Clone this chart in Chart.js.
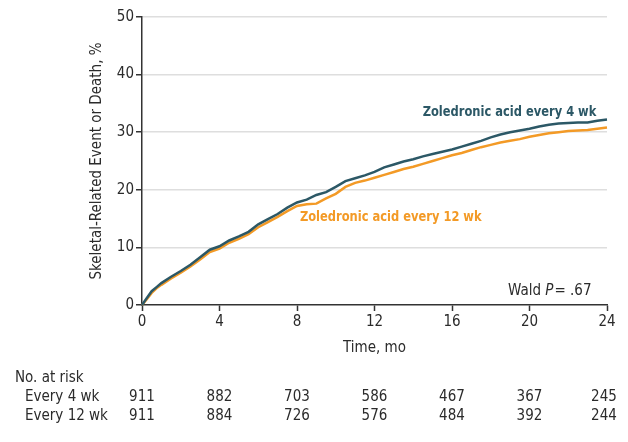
<!DOCTYPE html>
<html>
<head>
<meta charset="utf-8">
<script src="https://cdn.jsdelivr.net/npm/chart.js@4.4.1/dist/chart.umd.min.js"></script>
<style>
  html, body { margin: 0; padding: 0; background: #fff; }
  #wrap { width: 628px; height: 442px; }
</style>
</head>
<body>
<div id="wrap"><canvas id="kmChart"></canvas></div>
<script>
// datos
const months = [0, 0.25, 0.5, 0.75, 1, 1.5, 2, 2.5, 3, 3.5, 4, 4.5, 5, 5.5, 6, 6.5, 7, 7.5, 8, 8.5, 9, 9.5, 10, 10.5, 11, 11.5, 12, 12.5, 13, 13.5, 14, 14.5, 15, 15.5, 16, 16.5, 17, 17.5, 18, 18.5, 19, 19.5, 20, 20.5, 21, 21.5, 22, 22.5, 23, 23.5, 24, 24.2];
const every4wk = [0, 1.2, 2.4, 3.1, 3.8, 4.9, 5.9, 7.0, 8.3, 9.6, 10.2, 11.2, 11.9, 12.7, 14.0, 14.9, 15.8, 16.9, 17.8, 18.3, 19.1, 19.6, 20.5, 21.5, 22.0, 22.5, 23.1, 23.9, 24.4, 24.9, 25.3, 25.8, 26.2, 26.6, 27.0, 27.5, 28.0, 28.5, 29.1, 29.6, 30.0, 30.3, 30.6, 31.0, 31.3, 31.5, 31.6, 31.7, 31.7, 32.0, 32.2, 32.3];
const every12wk = [0, 1.0, 2.1, 2.9, 3.5, 4.6, 5.6, 6.7, 7.9, 9.2, 9.8, 10.8, 11.5, 12.3, 13.5, 14.4, 15.3, 16.3, 17.2, 17.5, 17.6, 18.5, 19.3, 20.5, 21.2, 21.6, 22.1, 22.6, 23.1, 23.6, 24.0, 24.5, 25.0, 25.5, 26.0, 26.4, 26.9, 27.4, 27.8, 28.2, 28.5, 28.8, 29.2, 29.5, 29.8, 30.0, 30.2, 30.3, 30.4, 30.6, 30.8, 30.9];

const xTicks = [0, 4, 8, 12, 16, 20, 24];
const yTicks = [0, 10, 20, 30, 40, 50];
const riskRows = ['Every 4 wk', 'Every 12 wk'];
const risk4wk = [911, 882, 703, 586, 467, 367, 245];
const risk12wk = [911, 884, 726, 576, 484, 392, 244];

const TEAL = '#2c5866';
const ORANGE = '#f39a26';
const TXT = '#2b2b2b';
const FONT = "'Liberation Sans Narrow', 'DejaVu Sans Condensed', sans-serif";

// texto en negrita comprimido horizontalmente (la fuente original es estrecha)
function narrowText(ctx, text, x, y, align, squeeze) {
    const w = ctx.measureText(text).width * squeeze;
    const left = align === 'right' ? x - w : x;
    ctx.save();
    ctx.translate(left, y);
    ctx.scale(squeeze, 1);
    ctx.textAlign = 'left';
    ctx.fillText(text, 0, 0);
    ctx.restore();
}

// tabla "No. at risk" y etiquetas
const extras = {
    id: 'extras',
    afterDraw(chart) {
        const ctx = chart.ctx;
        const x = chart.scales.x;
        const y = chart.scales.y;
        ctx.save();
        ctx.textBaseline = 'middle';

        // etiquetas de las curvas
        ctx.font = 'bold 14.5px ' + FONT;
        ctx.fillStyle = TEAL;
        narrowText(ctx, 'Zoledronic acid every 4 wk', x.getPixelForValue(23.45), y.getPixelForValue(33.5), 'right', 0.88);
        ctx.fillStyle = ORANGE;
        narrowText(ctx, 'Zoledronic acid every 12 wk', x.getPixelForValue(8.15), y.getPixelForValue(15.2), 'left', 0.88);

        // Wald P
        ctx.fillStyle = TXT;
        ctx.font = '15px ' + FONT;
        const right = x.getPixelForValue(23.2);
        const yy = y.getPixelForValue(2.4);
        const tail = '= .67';
        const wTail = ctx.measureText(tail).width;
        ctx.textAlign = 'right';
        ctx.fillText(tail, right, yy);
        ctx.font = 'italic 15px ' + FONT;
        const wP = ctx.measureText('P').width;
        ctx.fillText('P', right - wTail - 1, yy);
        ctx.font = '15px ' + FONT;
        ctx.fillText('Wald ', right - wTail - wP - 1, yy);

        // número en riesgo
        ctx.textAlign = 'left';
        ctx.fillText('No. at risk', 15, 378);
        ctx.fillText(riskRows[0], 25, 397);
        ctx.fillText(riskRows[1], 25, 416);
        ctx.textAlign = 'center';
        xTicks.forEach((t, i) => {
            const px = x.getPixelForValue(t) - (i === xTicks.length - 1 ? 3 : 0);
            ctx.fillText(String(risk4wk[i]), px, 397);
            ctx.fillText(String(risk12wk[i]), px, 416);
        });
        ctx.restore();
    }
};

document.addEventListener('DOMContentLoaded', function() {
    Chart.defaults.font.family = FONT;
    Chart.defaults.color = TXT;

    const ctx = document.getElementById('kmChart').getContext('2d');
    new Chart(ctx, {
        type: 'line',
        data: {
            datasets: [{
                label: 'Zoledronic acid every 4 wk',
                data: months.map((m, i) => ({ x: m, y: every4wk[i] })),
                borderColor: TEAL,
                borderWidth: 2.5,
                pointRadius: 0,
                tension: 0,
                clip: false
            }, {
                label: 'Zoledronic acid every 12 wk',
                data: months.map((m, i) => ({ x: m, y: every12wk[i] })),
                borderColor: ORANGE,
                borderWidth: 2.5,
                pointRadius: 0,
                tension: 0,
                clip: false
            }]
        },
        options: {
            responsive: true,
            maintainAspectRatio: false,
            animation: false,
            events: [],
            layout: { padding: { left: 88, right: 21, top: 17, bottom: 85 } },
            plugins: { legend: { display: false }, tooltip: { enabled: false } },
            scales: {
                x: {
                    type: 'linear',
                    min: 0,
                    max: 24,
                    afterBuildTicks: s => { s.ticks = xTicks.map(v => ({ value: v })); },
                    afterFit: s => { s.height = 52; },
                    border: { color: '#333', width: 1.5 },
                    grid: { drawOnChartArea: false, tickColor: '#333', tickLength: 6, tickWidth: 1.5 },
                    ticks: { font: { size: 15 }, padding: 2, maxRotation: 0, color: TXT },
                    title: { display: true, text: 'Time, mo', font: { size: 15 }, color: TXT, padding: 0 }
                },
                y: {
                    min: 0,
                    max: 50,
                    afterBuildTicks: s => { s.ticks = yTicks.map(v => ({ value: v })); },
                    afterFit: s => { s.width = 54; },
                    border: { color: '#333', width: 1.5 },
                    grid: {
                        color: ctx => ctx.tick && ctx.tick.value === 0 ? 'rgba(0,0,0,0)' : '#dedede',
                        lineWidth: 1.5,
                        tickColor: '#333',
                        tickLength: 6,
                        tickWidth: 1.5
                    },
                    ticks: { font: { size: 15 }, padding: 2, color: TXT },
                    title: { display: true, text: 'Skeletal-Related Event or Death, %', font: { size: 15 }, color: TXT, padding: 0 }
                }
            }
        },
        plugins: [extras]
    });
});
</script>
</body>
</html>
